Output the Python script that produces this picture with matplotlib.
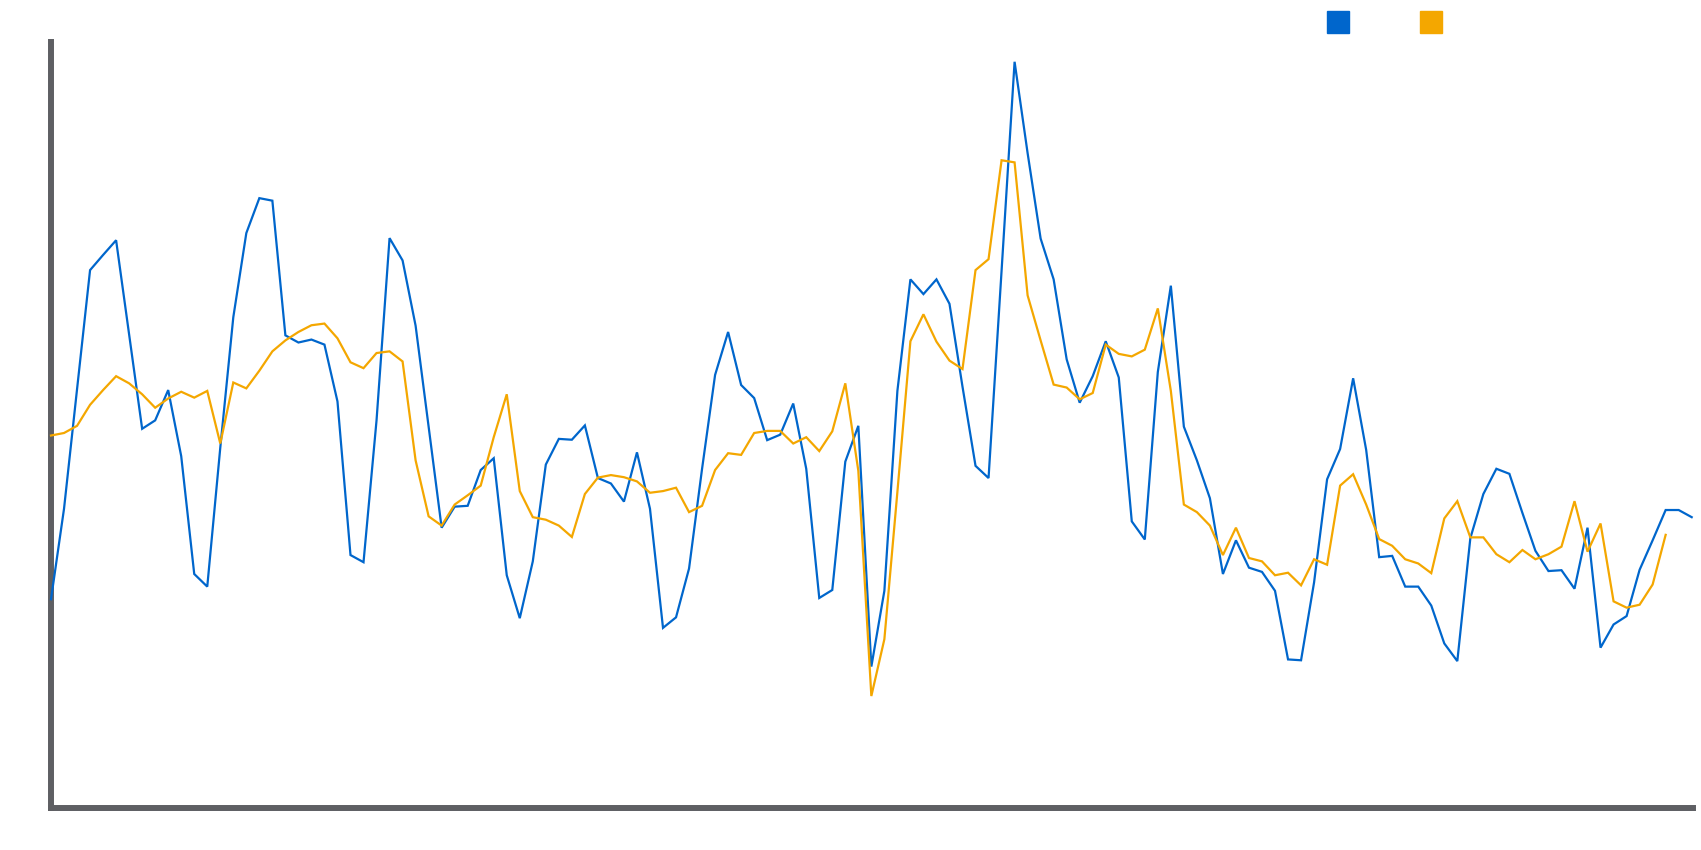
import matplotlib
matplotlib.use("Agg")
import matplotlib.pyplot as plt
from matplotlib.lines import Line2D
import numpy as np

# series values (arbitrary units)
blue = [496, 711, 995, 1278, 1314, 1349, 1125, 901, 921, 993,
        836, 556, 526, 856, 1166, 1366, 1449, 1443, 1123, 1106,
        1113, 1101, 966, 601, 584, 921, 1354, 1301, 1146, 906,
        666, 716, 718, 803, 831, 553, 451, 586, 816, 877,
        875, 909, 784, 771, 728, 845, 711, 428, 453, 569,
        806, 1029, 1131, 1005, 974, 874, 887, 961, 806, 499,
        518, 823, 908, 336, 516, 991, 1256, 1221, 1256, 1198,
        1001, 813, 784, 1276, 1773, 1556, 1353, 1256, 1066, 963,
        1026, 1109, 1023, 681, 638, 1036, 1241, 906, 826, 736,
        556, 636, 571, 561, 516, 353, 351, 536, 781, 853,
        1021, 851, 596, 599, 526, 526, 481, 391, 349, 641,
        746, 806, 794, 701, 611, 563, 565, 521, 666, 381,
        436, 456, 566, 636, 708, 708, 691]

orange = [885, 891, 908, 958, 993, 1026, 1009, 983, 951, 973,
          989, 975, 991, 866, 1011, 997, 1039, 1085, 1111, 1131,
          1147, 1151, 1116, 1059, 1045, 1081, 1085, 1061, 826, 693,
          671, 721, 743, 766, 881, 983, 753, 691, 685, 671,
          644, 746, 785, 791, 786, 776, 749, 753, 761, 703,
          718, 803, 843, 839, 891, 896, 896, 866, 881, 848,
          895, 1009, 801, 266, 401, 751, 1109, 1173, 1108, 1063,
          1043, 1278, 1304, 1539, 1534, 1218, 1111, 1006, 999, 971,
          986, 1101, 1079, 1073, 1089, 1187, 991, 721, 703, 671,
          601, 666, 594, 586, 553, 559, 529, 591, 578, 766,
          793, 721, 639, 623, 591, 581, 558, 688, 729, 643,
          643, 603, 584, 613, 591, 603, 621, 729, 609, 676,
          491, 476, 483, 531, 649]

blue_color = '#0066CC'
orange_color = '#F4A700'
spine_color = '#5E5F63'

fig = plt.figure(figsize=(17.01, 8.5), dpi=100, facecolor='white')
ax = fig.add_axes([51/1701, 42/850, (1693-51)/1701, (808-42)/850])

# lines sit on top of the axis lines, as in the original
ax.plot(np.arange(len(blue)), blue, color=blue_color, linewidth=1.6,
        solid_joinstyle='miter', zorder=3, clip_on=False)
ax.plot(np.arange(len(orange)), orange, color=orange_color, linewidth=1.6,
        solid_joinstyle='miter', zorder=3, clip_on=False)

ax.set_xlim(0, 126.1)
ax.set_ylim(0, 1820)
ax.set_xticks([])
ax.set_yticks([])
for side in ['top', 'right']:
    ax.spines[side].set_visible(False)
for side in ['left', 'bottom']:
    ax.spines[side].set_color(spine_color)
    ax.spines[side].set_linewidth(4.3)

# legend: two coloured squares, no text
handles = [Line2D([], [], marker='s', markersize=15.8, color=c, linestyle='None')
           for c in [blue_color, orange_color]]
fig.legend(handles, ['', ''], ncol=2, loc='center', frameon=False,
           bbox_to_anchor=(1388/1701, 1 - 23/850),
           handlelength=1.6, handletextpad=0.5, columnspacing=4.6, fontsize=10)

fig.savefig('out.png', dpi=100, facecolor='white')
